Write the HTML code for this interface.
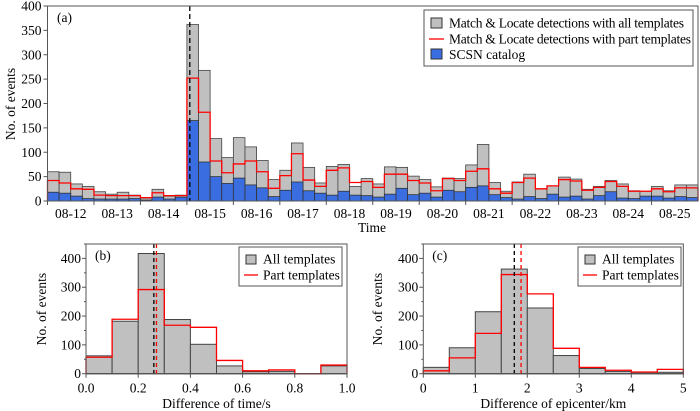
<!DOCTYPE html>
<html><head><meta charset="utf-8"><style>
html,body{margin:0;padding:0;background:#fff;}
svg{display:block;}
svg text{font-family:"Liberation Serif","Times New Roman",serif;}
</style></head><body>
<svg id="fig" width="700" height="411" viewBox="0 0 700 411" xmlns="http://www.w3.org/2000/svg"></svg>
<script>
// ---- Panel (a) data: 6-hour bins, 08-12 to 08-25 ----
const dayLabels = ["08-12","08-13","08-14","08-15","08-16","08-17","08-18","08-19","08-20","08-21","08-22","08-23","08-24","08-25"];
const allCounts = [60,59,35,30,19,14,18,12,6,24,10,12,362,268,128,89,130,111,83,44,63,119,69,37,71,75,30,46,35,70,69,51,44,29,47,46,74,116,38,20,39,55,25,31,49,45,24,30,42,35,21,20,30,21,33,33];
const partCounts = [42,37,25,24,12,11,11,11,7,17,11,11,252,182,82,58,76,82,60,26,52,97,43,30,63,68,38,40,28,55,55,42,37,21,46,42,61,66,25,16,38,47,25,31,44,41,22,28,40,30,20,20,25,19,27,27];
const scsnCounts = [18,16,10,5,4,4,4,5,2,8,4,8,165,80,50,36,47,33,27,9,22,39,21,16,12,20,12,11,8,14,26,13,16,8,22,19,28,31,13,7,4,9,5,14,8,10,4,11,19,6,5,10,10,6,9,7];
const yTicksA = [0,50,100,150,200,250,300,350,400];
const mainshockBin = 12.25;
// ---- Panel (b) ----
const timeBins = [0,0.1,0.2,0.3,0.4,0.5,0.6,0.7,0.8,0.9];
const timeAll = [62,182,417,188,102,27,7,8,0,27];
const timePart = [57,189,292,168,161,46,10,13,0,30];
const timeMeans = [0.26,0.27];
const timeTicks = ["0.0","0.2","0.4","0.6","0.8","1.0"];
// ---- Panel (c) ----
const epiBins = [0,0.5,1,1.5,2,2.5,3,3.5,4,4.5];
const epiAll = [22,90,215,363,228,63,18,8,2,5];
const epiPart = [10,55,140,344,277,88,22,12,6,15];
const epiMeans = [1.75,1.88];
const epiTicks = ["0","1","2","3","4","5"];
const yTicksB = [0,100,200,300,400];

const NS="http://www.w3.org/2000/svg";
const svg=document.getElementById('fig');
function el(tag,attrs,parent,text){const e=document.createElementNS(NS,tag);for(const k in attrs)e.setAttribute(k,attrs[k]);if(text!==undefined)e.textContent=text;(parent||svg).appendChild(e);return e;}
const FS=13.5;

// ===== Panel a =====
const A={x0:47.5,x1:698,y0:201,y1:6,ymax:400,nb:56};
const ax=b=>A.x0+b*(A.x1-A.x0)/A.nb;
const ay=v=>A.y0-v*(A.y0-A.y1)/A.ymax;
const ga=el('g',{});


allCounts.forEach((v,i)=>{const r=el('rect',{x:ax(i),y:ay(v),width:ax(i+1)-ax(i),height:ay(0)-ay(v),fill:'#c0c0c0',stroke:'#444','stroke-width':0.8},ga);
});
scsnCounts.forEach((v,i)=>{const r=el('rect',{x:ax(i),y:ay(v),width:ax(i+1)-ax(i),height:ay(0)-ay(v),fill:'#3a6ee0',stroke:'#333','stroke-width':0.8},ga);
});
let d='M'+ax(0)+','+ay(0);
partCounts.forEach((v,i)=>{d+=' L'+ax(i)+','+ay(v)+' L'+ax(i+1)+','+ay(v);});
d+=' L'+ax(A.nb)+','+ay(0);
const pl=el('path',{d:d,fill:'none',stroke:'#f00','stroke-width':1.3},ga);

const ml=el('line',{x1:ax(mainshockBin),x2:ax(mainshockBin),y1:A.y1,y2:A.y0,stroke:'#000','stroke-width':1.3,'stroke-dasharray':'5,3'},ga);

el('rect',{x:A.x0,y:A.y1,width:A.x1-A.x0,height:A.y0-A.y1,fill:'none',stroke:'#555','stroke-width':1},ga);
yTicksA.forEach(t=>{el('line',{x1:A.x0-4,x2:A.x0,y1:ay(t),y2:ay(t),stroke:'#555'},ga);
const tx=el('text',{x:A.x0-6,y:ay(t)+4.5,'font-size':FS,'text-anchor':'end'},ga,t);});
dayLabels.forEach((l,i)=>{el('line',{x1:ax(i*4),x2:ax(i*4),y1:A.y0,y2:A.y0+4,stroke:'#555'},ga);
const tx=el('text',{x:ax(i*4+2),y:218,'font-size':FS,'text-anchor':'middle'},ga,l);});
let t=el('text',{x:372,y:232,'font-size':FS,'text-anchor':'middle'},ga,'Time');
t=el('text',{x:15,y:104,'font-size':FS,'text-anchor':'middle',transform:'rotate(-90 15 104)'},ga,'No. of events');
t=el('text',{x:57,y:22,'font-size':FS},ga,'(a)');
// legend a
const la=el('g',{},ga);
el('rect',{x:424,y:10,width:269,height:56,fill:'#fff',stroke:'#555'},la);
el('rect',{x:431,y:18,width:11,height:10,fill:'#c0c0c0',stroke:'#333'},la);
el('line',{x1:429,x2:444,y1:39,y2:39,stroke:'#f00','stroke-width':1.3},la);
el('rect',{x:431,y:49,width:11,height:10,fill:'#3a6ee0',stroke:'#333'},la);
el('text',{x:449,y:27.5,'font-size':FS,textLength:235},la,'Match & Locate detections with all templates');
el('text',{x:449,y:43.5,'font-size':FS,textLength:242},la,'Match & Locate detections with part templates');
el('text',{x:449,y:59,'font-size':FS},la,'SCSN catalog');

// ===== Histogram panels =====
function hist(o){
 const g=el('g',{});
 const x=v=>o.x0+(v-o.xmin)*(o.x1-o.x0)/(o.xmax-o.xmin);
 const y=v=>o.y0-v*(o.y0-o.y1)/450;
 o.all.forEach((v,i)=>{const r=el('rect',{x:x(o.bins[i]),y:y(v),width:x(o.bins[i]+o.bw)-x(o.bins[i]),height:y(0)-y(v),fill:'#c0c0c0',stroke:'#444','stroke-width':1},g);
 });
 let d='M'+x(o.xmin)+','+y(0);
 o.part.forEach((v,i)=>{d+=' L'+x(o.bins[i])+','+y(v)+' L'+x(o.bins[i]+o.bw)+','+y(v);});
 d+=' L'+x(o.xmax)+','+y(0);
 const p=el('path',{d:d,fill:'none',stroke:'#f00','stroke-width':1.3},g);
 el('line',{x1:o.x0,x2:o.x1,y1:y(0),y2:y(0),stroke:'#333','stroke-width':1},g);
 const m1=el('line',{x1:x(o.means[0]),x2:x(o.means[0]),y1:o.y1,y2:o.y0,stroke:'#000','stroke-width':1.3,'stroke-dasharray':'4,3'},g);
 
 const m2=el('line',{x1:x(o.means[1]),x2:x(o.means[1]),y1:o.y1,y2:o.y0,stroke:'#f00','stroke-width':1.3,'stroke-dasharray':'4,3'},g);
 
 el('rect',{x:o.x0,y:o.y1,width:o.x1-o.x0,height:o.y0-o.y1,fill:'none',stroke:'#555'},g);
 for(let v=0;v<=450;v+=50){el('line',{x1:o.x0-(v%100?2:4),x2:o.x0,y1:y(v),y2:y(v),stroke:'#555'},g);}
 yTicksB.forEach(v=>{const tx=el('text',{x:o.x0-5,y:y(v)+4.5,'font-size':FS,'text-anchor':'end'},g,v);});
 o.ticks.forEach((l,i)=>{const xv=o.xmin+i*(o.xmax-o.xmin)/(o.ticks.length-1);
  el('line',{x1:x(xv),x2:x(xv),y1:o.y0,y2:o.y0+4,stroke:'#555'},g);
  const tx=el('text',{x:x(xv),y:o.y0+19,'font-size':FS,'text-anchor':'middle'},g,l);});
 let t=el('text',{x:(o.x0+o.x1)/2,y:408,'font-size':FS,'text-anchor':'middle'},g,o.xlabel);
 t=el('text',{x:o.ylx,y:309,'font-size':FS,'text-anchor':'middle',transform:'rotate(-90 '+o.ylx+' 309)'},g,'No. of events');
 t=el('text',{x:o.x0+9,y:260,'font-size':FS},g,o.label);
 const lg=el('g',{},g);
 el('rect',{x:o.lx,y:247,width:103,height:39,fill:'#fff',stroke:'#555'},lg);
 el('rect',{x:o.lx+7,y:255,width:10,height:9,fill:'#c0c0c0',stroke:'#333'},lg);
 el('line',{x1:o.lx+5,x2:o.lx+19,y1:275,y2:275,stroke:'#f00','stroke-width':1.3},lg);
 el('text',{x:o.lx+24,y:263.5,'font-size':FS},lg,'All templates');
 el('text',{x:o.lx+24,y:279.5,'font-size':FS},lg,'Part templates');
}
hist({name:'panel-b',x0:86,x1:347,y0:373.7,y1:244,xmin:0,xmax:1,bw:0.1,bins:timeBins,all:timeAll,part:timePart,means:timeMeans,ticks:timeTicks,xlabel:'Difference of time/s',ylx:46,label:'(b)',lx:239});
hist({name:'panel-c',x0:423.3,x1:683.3,y0:373.7,y1:244,xmin:0,xmax:5,bw:0.5,bins:epiBins,all:epiAll,part:epiPart,means:epiMeans,ticks:epiTicks,xlabel:'Difference of epicenter/km',ylx:382,label:'(c)',lx:578});
</script>
</body></html>
